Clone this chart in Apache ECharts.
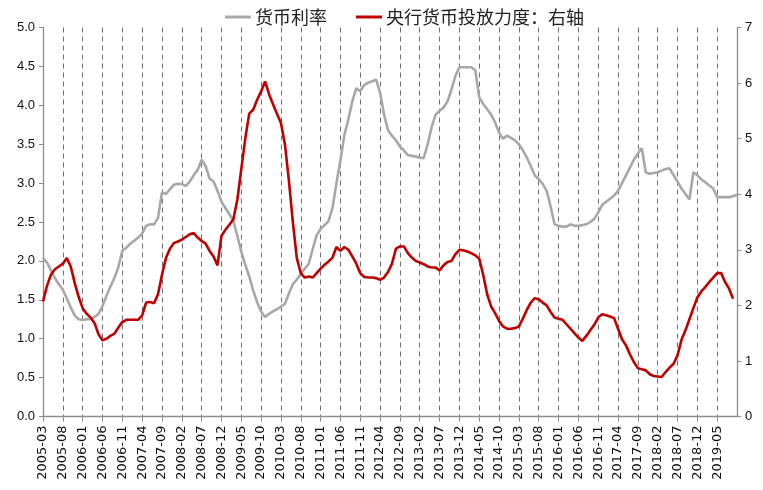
<!DOCTYPE html>
<html>
<head>
<meta charset="utf-8">
<script src="https://cdn.jsdelivr.net/npm/echarts@6/dist/echarts.min.js"></script>
<style>
html,body{margin:0;padding:0;background:#fff;}
#chart{width:763px;height:490px;}
</style>
</head>
<body>
<div id="chart"></div>
<script>
// Monthly categories 2005-03 .. 2019-10
var startYear = 2005, startMonth = 3, monthCount = 176;
var categories = [];
for (var i = 0; i < monthCount; i++) {
  var t = startYear * 12 + (startMonth - 1) + i;
  var y = Math.floor(t / 12), m = t % 12 + 1;
  categories.push(y + '-' + (m < 10 ? '0' + m : m));
}

var seriesNames = ['货币利率', '央行货币投放力度：右轴'];

// 货币利率 (left axis)
var rateValues = [
  2.04,1.98,1.88,1.78,1.70,1.63,1.52,1.40,1.30,1.25,
  1.24,1.25,1.25,1.28,1.32,1.42,1.55,1.67,1.78,1.92,
  2.13,2.17,2.22,2.26,2.30,2.35,2.45,2.47,2.47,2.55,
  2.88,2.86,2.92,2.98,2.99,2.99,2.96,3.02,3.10,3.17,
  3.30,3.22,3.06,3.02,2.90,2.76,2.68,2.60,2.52,2.32,
  2.12,1.95,1.80,1.62,1.47,1.35,1.28,1.32,1.35,1.38,
  1.41,1.45,1.58,1.70,1.76,1.83,1.90,1.96,2.15,2.33,
  2.41,2.46,2.51,2.68,3.00,3.29,3.62,3.82,4.05,4.22,
  4.18,4.26,4.29,4.31,4.33,4.16,3.88,3.68,3.61,3.55,
  3.47,3.42,3.36,3.35,3.34,3.33,3.32,3.50,3.72,3.88,
  3.93,3.97,4.05,4.20,4.38,4.49,4.49,4.49,4.49,4.45,
  4.10,4.02,3.95,3.88,3.78,3.65,3.57,3.61,3.58,3.55,
  3.50,3.42,3.33,3.22,3.10,3.05,2.99,2.90,2.70,2.47,
  2.45,2.44,2.44,2.47,2.45,2.45,2.46,2.47,2.50,2.54,
  2.62,2.72,2.76,2.80,2.84,2.90,3.00,3.10,3.20,3.30,
  3.38,3.45,3.14,3.12,3.13,3.14,3.16,3.18,3.19,3.10,
  3.02,2.93,2.86,2.79,3.14,3.10,3.05,3.01,2.97,2.93,
  2.82,2.82,2.82,2.82,2.83,2.85
];

// 央行货币投放力度 (right axis)
var pbocValues = [
  2.07,2.35,2.55,2.65,2.70,2.75,2.85,2.70,2.40,2.15,
  1.95,1.85,1.78,1.68,1.48,1.37,1.40,1.45,1.49,1.60,
  1.70,1.74,1.74,1.74,1.74,1.82,2.05,2.06,2.04,2.20,
  2.55,2.85,3.02,3.12,3.15,3.18,3.23,3.28,3.30,3.22,
  3.16,3.11,2.98,2.88,2.72,3.25,3.36,3.45,3.55,3.90,
  4.45,5.00,5.45,5.52,5.70,5.85,6.03,5.80,5.62,5.45,
  5.28,4.90,4.25,3.50,2.85,2.58,2.50,2.52,2.50,2.58,
  2.66,2.73,2.79,2.86,3.05,2.98,3.05,3.00,2.88,2.75,
  2.58,2.51,2.50,2.50,2.49,2.46,2.50,2.60,2.75,3.02,
  3.06,3.06,2.94,2.86,2.80,2.77,2.74,2.70,2.68,2.68,
  2.63,2.72,2.78,2.80,2.92,3.00,2.99,2.97,2.94,2.90,
  2.84,2.55,2.20,1.98,1.86,1.72,1.62,1.58,1.58,1.59,
  1.62,1.76,1.92,2.05,2.13,2.11,2.05,2.00,1.88,1.78,
  1.76,1.74,1.66,1.58,1.50,1.42,1.36,1.45,1.55,1.65,
  1.78,1.84,1.82,1.80,1.77,1.58,1.39,1.28,1.12,0.98,
  0.87,0.85,0.83,0.76,0.73,0.72,0.71,0.80,0.88,0.95,
  1.10,1.38,1.55,1.75,1.95,2.14,2.25,2.33,2.42,2.50,
  2.58,2.58,2.42,2.30,2.12
];

var leftTicks = [0, 5, 0.5];
var rightTicks = [0, 7, 1];

var labelStep = 5;
function showLabel(idx) { return idx % labelStep === 0 && idx < monthCount - 1; }
function showGrid(idx) { return idx % labelStep === 0 && idx > 0 && idx < monthCount - 1; }

var axisColor = '#8c8c8c';
var textColor = '#111';
var numFont = 'Liberation Sans, Arial, sans-serif';
var grayColor = '#a8a8a8';
var redColor = '#c00000';

var chart = echarts.init(document.getElementById('chart'), null, {renderer: 'canvas'});
chart.setOption({
  animation: false,
  backgroundColor: '#fff',
  legend: {
    top: 3,
    left: 220,
    itemGap: 29,
    itemWidth: 26,
    itemHeight: 3,
    icon: 'rect',
    textStyle: {fontFamily: 'Noto Sans CJK SC', fontSize: 18, color: '#222', padding: [0, 0, 0, -1]},
    data: [
      {name: seriesNames[0], itemStyle: {color: grayColor}},
      {name: seriesNames[1], itemStyle: {color: redColor}}
    ]
  },
  grid: {left: 43, right: 26, top: 27.5, bottom: 73.5, containLabel: false},
  xAxis: {
    type: 'category',
    data: categories,
    boundaryGap: false,
    axisLine: {lineStyle: {color: axisColor, width: 1.3}},
    axisTick: {show: true, interval: showLabel, length: 5, lineStyle: {color: axisColor}},
    axisLabel: {
      interval: showLabel,
      rotate: 90,
      margin: 9,
      color: textColor,
      fontFamily: 'DejaVu Sans, sans-serif',
      fontSize: 13
    },
    splitLine: {
      show: true,
      interval: showGrid,
      lineStyle: {color: '#6f6f6f', type: [5, 4], width: 1}
    }
  },
  yAxis: [
    {
      type: 'value',
      min: leftTicks[0], max: leftTicks[1], interval: leftTicks[2],
      axisLine: {show: true, lineStyle: {color: axisColor, width: 1.3}},
      axisTick: {show: true, length: 4, lineStyle: {color: axisColor}},
      axisLabel: {
        color: textColor, fontFamily: numFont, fontSize: 13, margin: 8,
        formatter: function (v) { return v.toFixed(1); }
      },
      splitLine: {show: false}
    },
    {
      type: 'value',
      min: rightTicks[0], max: rightTicks[1], interval: rightTicks[2],
      position: 'right',
      axisLine: {show: true, lineStyle: {color: axisColor, width: 1.3}},
      axisTick: {show: true, length: 4, lineStyle: {color: axisColor}},
      axisLabel: {color: textColor, fontFamily: numFont, fontSize: 13, margin: 8},
      splitLine: {show: false}
    }
  ],
  series: [
    {
      name: seriesNames[0],
      type: 'line',
      yAxisIndex: 0,
      data: rateValues,
      symbol: 'none',
      lineStyle: {color: grayColor, width: 2.6},
      itemStyle: {color: grayColor},
      z: 2
    },
    {
      name: seriesNames[1],
      type: 'line',
      yAxisIndex: 1,
      data: pbocValues,
      symbol: 'none',
      lineStyle: {color: redColor, width: 2.6},
      itemStyle: {color: redColor},
      z: 3
    }
  ]
});
</script>
</body>
</html>
